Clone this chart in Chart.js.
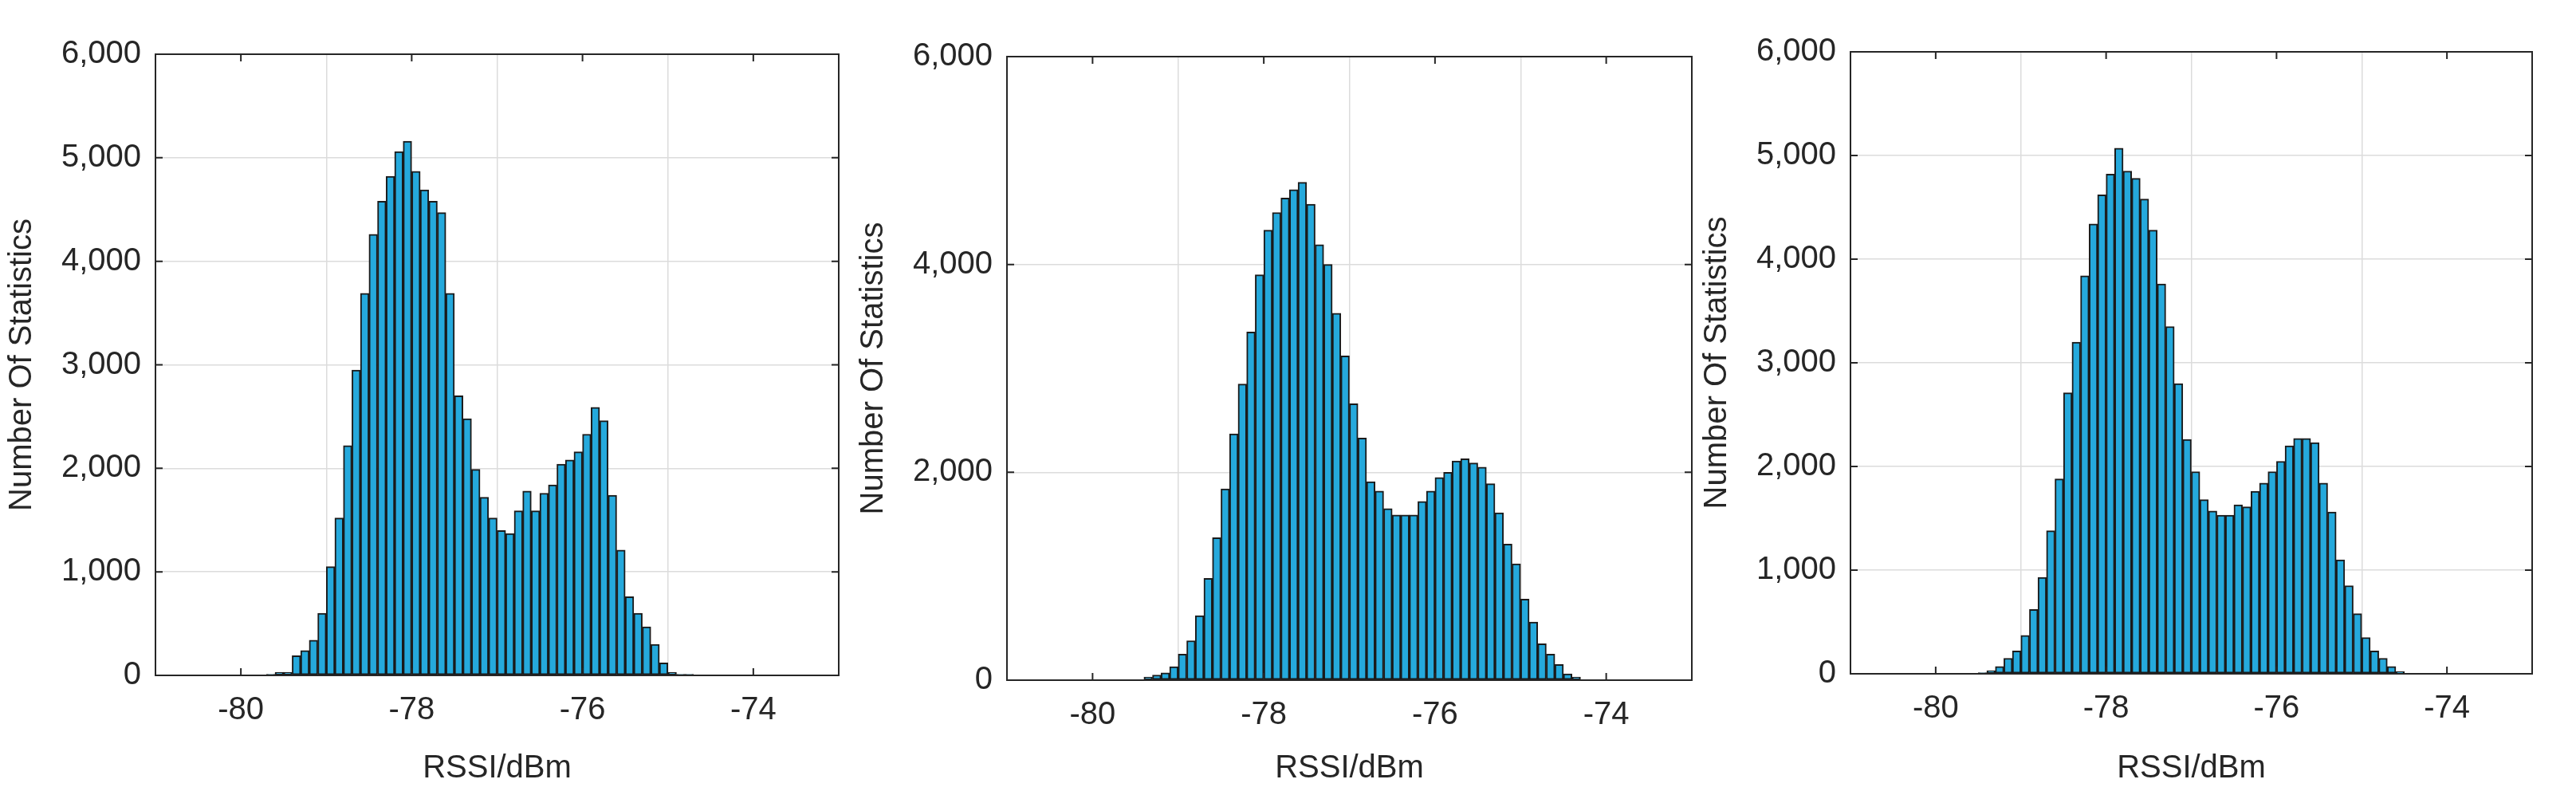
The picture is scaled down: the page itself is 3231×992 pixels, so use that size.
<!DOCTYPE html>
<html>
<head>
<meta charset="utf-8">
<script src="https://cdn.jsdelivr.net/npm/chart.js@4"></script>
<style>
  body { margin: 0; background: #fff; width: 3231px; height: 992px; position: relative; overflow: hidden; }
  .panel { position: absolute; top: 0; height: 992px; }
</style>
</head>
<body>
<div class="panel" id="p1"><canvas id="c1"></canvas></div>
<div class="panel" id="p2"><canvas id="c2"></canvas></div>
<div class="panel" id="p3"><canvas id="c3"></canvas></div>
<script>
// left edges of first bin (dBm), bin width 0.1
const binWidth = 0.1;
const start1 = -79.7;
const start2 = -79.4;
const start3 = -79.5;

const counts1 = [10, 30, 30, 190, 240, 340, 600, 1050, 1520, 2220, 2950, 3690, 4260, 4580, 4820, 5060, 5160,
  4870, 4690, 4580, 4470, 3690, 2700, 2480, 1990, 1720, 1520, 1400, 1370, 1590, 1780, 1590, 1760, 1840,
  2040, 2080, 2160, 2330, 2590, 2460, 1740, 1210, 760, 600, 470, 300, 120, 30, 10, 10];
const counts2 = [30, 50, 70, 130, 250, 380, 620, 980, 1370, 1840, 2370, 2850, 3350, 3900, 4330, 4500, 4640,
  4720, 4790, 4580, 4190, 4000, 3530, 3120, 2660, 2330, 1910, 1820, 1650, 1590, 1590, 1590, 1720, 1820,
  1950, 2000, 2110, 2130, 2090, 2050, 1890, 1610, 1310, 1120, 780, 560, 350, 250, 150, 60, 30];
const counts3 = [10, 30, 70, 150, 220, 370, 620, 930, 1380, 1880, 2710, 3200, 3840, 4340, 4620, 4820, 5070,
  4850, 4780, 4580, 4280, 3760, 3350, 2800, 2260, 1950, 1680, 1570, 1530, 1530, 1630, 1610, 1760, 1840,
  1950, 2050, 2200, 2270, 2270, 2230, 1840, 1560, 1100, 850, 580, 350, 220, 150, 70, 20];

const xTicks = [-80, -78, -76, -74];
const yTicksA = [0, 1000, 2000, 3000, 4000, 5000, 6000];
const yTicksB = [0, 2000, 4000, 6000];

const FONT = 'Liberation Sans, Arial, sans-serif';
const TXT = '#262626';

// MATLAB style box with inward ticks
const boxPlugin = {
  id: 'box',
  afterDraw(chart) {
    const { ctx, chartArea: a, scales } = chart;
    ctx.save();
    ctx.strokeStyle = TXT;
    ctx.lineWidth = 2;
    ctx.strokeRect(a.left, a.top, a.right - a.left, a.bottom - a.top);
    const t = 9;
    ctx.beginPath();
    scales.x.ticks.forEach(tk => {
      const px = scales.x.getPixelForValue(tk.value);
      ctx.moveTo(px, a.bottom); ctx.lineTo(px, a.bottom - t);
      ctx.moveTo(px, a.top); ctx.lineTo(px, a.top + t);
    });
    scales.y.ticks.forEach(tk => {
      const py = scales.y.getPixelForValue(tk.value);
      ctx.moveTo(a.left, py); ctx.lineTo(a.left + t, py);
      ctx.moveTo(a.right, py); ctx.lineTo(a.right - t, py);
    });
    ctx.stroke();
    ctx.restore();
  }
};

function makeChart(id, divId, plotLeft, plotRight, plotTop, plotBottom, start, counts, yTicks) {
  const div = document.getElementById(divId);
  const leftW = 195;
  div.style.left = (plotLeft - leftW) + 'px';
  div.style.width = (plotRight - plotLeft + leftW + 60) + 'px';

  const data = counts.map((v, i) => ({ x: start + binWidth / 2 + i * binWidth, y: v }));

  new Chart(document.getElementById(id), {
    type: 'bar',
    data: {
      datasets: [{
        data: data,
        backgroundColor: '#25a9dc',
        borderColor: '#1a1a1a',
        borderWidth: 2,
        barPercentage: 1,
        categoryPercentage: 1,
        borderSkipped: false
      }]
    },
    options: {
      responsive: true,
      maintainAspectRatio: false,
      animation: false,
      layout: { padding: { top: plotTop, right: 60, left: 0, bottom: 0 } },
      plugins: { legend: { display: false }, tooltip: { enabled: false } },
      scales: {
        x: {
          type: 'linear',
          min: -80,
          max: -74,
          afterBuildTicks: s => { s.ticks = xTicks.map(v => ({ value: v })); },
          afterFit: s => { s.height = 992 - plotBottom; },
          ticks: { color: TXT, font: { family: FONT, size: 40 }, padding: 20, maxRotation: 0 },
          grid: { color: '#dcdcdc', lineWidth: 1.5, drawTicks: false },
          border: { display: false },
          title: { display: true, text: 'RSSI/dBm', color: TXT, font: { family: FONT, size: 40 }, padding: { top: 8 } }
        },
        y: {
          min: 0,
          max: 6000,
          afterBuildTicks: s => { s.ticks = yTicks.map(v => ({ value: v })); },
          afterFit: s => { s.width = leftW; },
          ticks: { color: TXT, font: { family: FONT, size: 40 }, padding: 18 },
          grid: { color: '#dcdcdc', lineWidth: 1.5, drawTicks: false },
          border: { display: false },
          title: { display: true, text: 'Number Of Statistics', color: TXT, font: { family: FONT, size: 40 }, padding: { bottom: 4 } }
        }
      }
    },
    plugins: [boxPlugin]
  });
}

makeChart('c1', 'p1', 195, 1052, 68, 847, start1, counts1, yTicksA);
makeChart('c2', 'p2', 1263, 2122, 71, 853, start2, counts2, yTicksB);
makeChart('c3', 'p3', 2321, 3176, 65, 845, start3, counts3, yTicksA);
</script>
</body>
</html>
